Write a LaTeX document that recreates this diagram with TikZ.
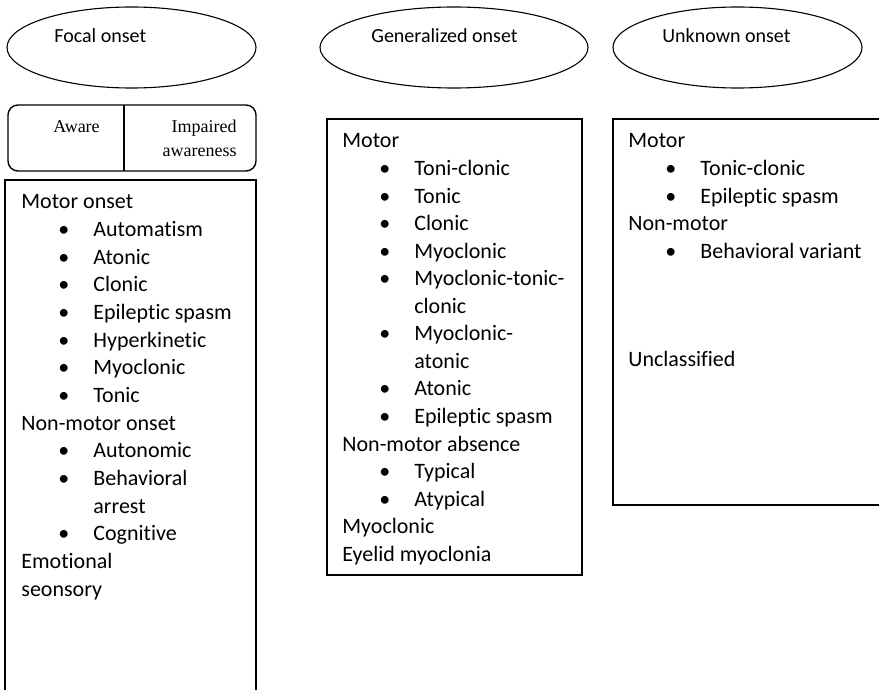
\documentclass[tikz,border=0pt]{standalone}
\usepackage{fontspec}
\setmainfont{Carlito}[Ligatures={NoCommon,NoRare}]
\newfontfamily\awfont{Liberation Serif}
\usetikzlibrary{positioning,shapes.geometric}
\tikzset{onset/.style={draw, ellipse, inner sep=0pt, line width=0.55pt},
         box/.style={draw, rectangle, inner sep=0pt, line width=0.7pt},
         head/.style={anchor=base west, inner sep=0pt, font=\fontsize{10}{12}\selectfont},
         awtxt/.style={inner sep=0pt, font=\awfont\fontsize{9}{12}\selectfont},
         entry/.style={anchor=base west, inner sep=0pt, font=\fontsize{11}{13.8}\selectfont}}
\newcommand{\entrytext}[2]{\ifcase#1 #2\or\hspace*{18.5pt}\makebox[17.5pt][l]{\textbullet}#2\or\hspace*{36pt}#2\fi}

\begin{document}
\begin{tikzpicture}[x=0.5pt, y=-0.5pt]
	\useasboundingbox (0,0) rectangle (879,690);
	\clip (0,0) rectangle (879,690);
	% onset ellipses
	\node[onset, minimum width=124.5pt, minimum height=40.5pt] (focal) at (131.5,47.5) {};
	\node[onset, minimum width=134pt, minimum height=40.5pt] (gen) at (454,47.5) {};
	\node[onset, minimum width=124.5pt, minimum height=40.5pt] (unk) at (737.5,47.5) {};
	\node[head] (focaltxt) at (54,43) {Focal onset};
	\node[head] (gentxt) at (371,43) {Generalized onset};
	\node[head] (unktxt) at (662,43) {Unknown onset};

	% aware / impaired awareness
	\node[box, rounded corners=5pt, minimum width=124pt, minimum height=33pt] (aware) at (132,138) {};
	\draw[line width=0.7pt] (124,105) -- (124,171);
	\node[awtxt, anchor=base west] (awaretxt) at (53,133) {Aware};
	\node[awtxt, anchor=base east] (imptxt) at (237,133) {Impaired};
	\node[awtxt, anchor=base east] (imptxtb) at (237,157) {awareness};

	% boxes
	\node[box, minimum width=125.5pt, minimum height=270pt] (focalbox) at (130.5,450) {};
	\node[box, minimum width=127.5pt, minimum height=228pt] (genbox) at (454.5,347) {};
	\node[box, minimum width=143.5pt, minimum height=193pt] (unkbox) at (756.5,312) {};

	% focal list
	\foreach \lv/\t [count=\i] in {0/Motor onset, 1/Automatism, 1/Atonic, 1/Clonic,
		1/Epileptic spasm, 1/Hyperkinetic, 1/Myoclonic, 1/Tonic, 0/Non-motor onset,
		1/Autonomic, 1/Behavioral, 2/arrest, 1/Cognitive, 0/Emotional, 0/seonsory}
		\node[entry] (F\i) at (21,{209+27.65*(\i-1)}) {\entrytext{\lv}{\t}};

	% generalized list
	\foreach \lv/\t [count=\i] in {0/Motor, 1/Toni-clonic, 1/Tonic, 1/Clonic,
		1/Myoclonic, 1/Myoclonic-tonic-, 2/clonic, 1/Myoclonic-, 2/atonic, 1/Atonic,
		1/Epileptic spasm, 0/Non-motor absence, 1/Typical, 1/Atypical, 0/Myoclonic,
		0/Eyelid myoclonia}
		\node[entry] (G\i) at (342,{148+27.55*(\i-1)}) {\entrytext{\lv}{\t}};

	% unknown list
	\foreach \lv/\t [count=\i] in {0/Motor, 1/Tonic-clonic, 1/Epileptic spasm,
		0/Non-motor, 1/Behavioral variant}
		\node[entry] (U\i) at (628,{148+27.6*(\i-1)}) {\entrytext{\lv}{\t}};
	\node[entry] (uncl) at (628,366) {Unclassified};
\end{tikzpicture}
\end{document}
